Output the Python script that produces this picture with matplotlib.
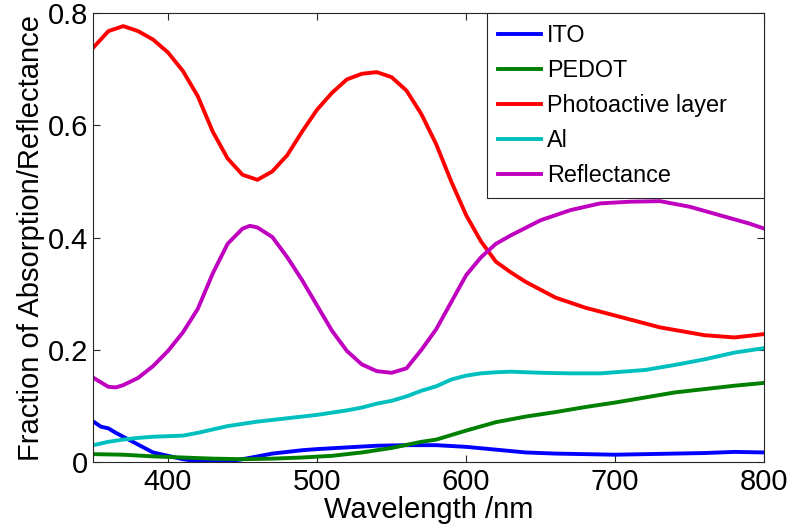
import matplotlib
matplotlib.use("Agg")
from matplotlib import pyplot as plt

# absorption / reflectance
wl_ito = [350, 355, 360, 365, 370, 380, 390, 400, 410, 420, 430, 440, 450, 460, 470, 480, 490, 500,
          520, 540, 560, 580, 600, 620, 640, 660, 680, 700, 720, 740, 760, 780, 800]
ito = [0.072, 0.063, 0.060, 0.052, 0.045, 0.031, 0.017, 0.011, 0.005, 0.001, 0.0, 0.001, 0.005, 0.010,
       0.015, 0.018, 0.021, 0.023, 0.026, 0.029, 0.030, 0.030, 0.027, 0.022, 0.017, 0.015, 0.014,
       0.013, 0.014, 0.015, 0.016, 0.018, 0.017]

wl_pedot = [350, 370, 390, 410, 430, 450, 470, 490, 510, 530, 550, 570, 580, 600, 620, 640, 660,
            680, 700, 720, 740, 760, 780, 800]
pedot = [0.014, 0.013, 0.010, 0.008, 0.006, 0.005, 0.006, 0.008, 0.011, 0.017, 0.025, 0.036, 0.040,
         0.056, 0.071, 0.081, 0.089, 0.098, 0.106, 0.115, 0.124, 0.130, 0.136, 0.141]

wl_active = [350, 360, 370, 380, 390, 400, 410, 420, 430, 440, 450, 460, 470, 480, 490, 500, 510,
             520, 530, 540, 550, 560, 570, 580, 590, 600, 610, 620, 630, 640, 660, 680, 700, 730,
             760, 780, 800]
active = [0.739, 0.768, 0.777, 0.768, 0.753, 0.730, 0.697, 0.652, 0.589, 0.541, 0.512, 0.503, 0.518,
          0.547, 0.589, 0.628, 0.658, 0.682, 0.692, 0.695, 0.686, 0.662, 0.620, 0.566, 0.500, 0.440,
          0.393, 0.357, 0.338, 0.321, 0.293, 0.275, 0.261, 0.240, 0.226, 0.222, 0.228]

wl_al = [350, 360, 370, 380, 390, 400, 410, 420, 430, 440, 450, 460, 470, 480, 490, 500, 510, 520,
         530, 540, 550, 560, 570, 580, 590, 600, 610, 620, 630, 650, 670, 690, 700, 720, 740, 760,
         780, 800]
al = [0.030, 0.036, 0.040, 0.043, 0.045, 0.046, 0.047, 0.052, 0.058, 0.064, 0.068, 0.072, 0.075,
      0.078, 0.081, 0.084, 0.088, 0.092, 0.097, 0.104, 0.109, 0.117, 0.127, 0.135, 0.147, 0.154,
      0.158, 0.160, 0.161, 0.159, 0.158, 0.158, 0.160, 0.164, 0.173, 0.183, 0.195, 0.203]

wl_refl = [350, 360, 365, 370, 380, 390, 400, 410, 420, 430, 440, 450, 455, 460, 470, 480, 490, 500,
           510, 520, 530, 540, 550, 560, 570, 580, 590, 600, 610, 620, 630, 650, 670, 690, 710, 730,
           750, 770, 790, 800]
refl = [0.150, 0.134, 0.133, 0.137, 0.150, 0.171, 0.198, 0.231, 0.273, 0.336, 0.389, 0.416, 0.421,
        0.418, 0.401, 0.365, 0.324, 0.279, 0.234, 0.198, 0.174, 0.162, 0.159, 0.167, 0.200, 0.237,
        0.285, 0.333, 0.365, 0.389, 0.404, 0.431, 0.449, 0.461, 0.464, 0.465, 0.455, 0.440, 0.425,
        0.416]

plt.rcParams["font.family"] = ["Liberation Sans", "DejaVu Sans"]

fig = plt.figure(figsize=(7.92, 5.28), dpi=100)
ax = fig.add_axes([0.118, 0.125, 0.847, 0.85])

lw = 2.8
ax.plot(wl_ito, ito, color=(0, 0, 1), lw=lw, label="ITO", solid_joinstyle="round")
ax.plot(wl_pedot, pedot, color=(0, 0.5, 0), lw=lw, label="PEDOT", solid_joinstyle="round")
ax.plot(wl_active, active, color=(1, 0, 0), lw=lw, label="Photoactive layer", solid_joinstyle="round")
ax.plot(wl_al, al, color=(0, 0.75, 0.75), lw=lw, label="Al", solid_joinstyle="round")
ax.plot(wl_refl, refl, color=(0.75, 0, 0.75), lw=lw, label="Reflectance", solid_joinstyle="round")

ax.set_xlim(350, 800)
ax.set_ylim(0, 0.8)
ax.set_xticks([400, 500, 600, 700, 800])
ax.set_yticks([0, 0.2, 0.4, 0.6, 0.8])
ax.set_yticklabels(["0", "0.2", "0.4", "0.6", "0.8"])
ax.tick_params(direction="in", top=True, right=True, length=5, width=0.8,
               labelsize=21, colors="#262626", labelcolor="black", pad=4)
for s in ax.spines.values():
    s.set_color("#262626")
    s.set_linewidth(0.8)

ax.set_xlabel("Wavelength /nm", fontsize=21, labelpad=0)
ax.set_ylabel("Fraction of Absorption/Reflectance", fontsize=21, labelpad=2)

leg = ax.legend(loc="upper right", bbox_to_anchor=(0.587, 0, 0.413, 1), mode="expand",
                borderaxespad=0, fontsize=16.8, handlelength=1.85, handletextpad=0.25,
                labelspacing=0.52, borderpad=0.45, fancybox=False, framealpha=1)
leg.get_frame().set_edgecolor("#262626")
leg.get_frame().set_linewidth(0.8)

fig.savefig("out.png", dpi=100)
